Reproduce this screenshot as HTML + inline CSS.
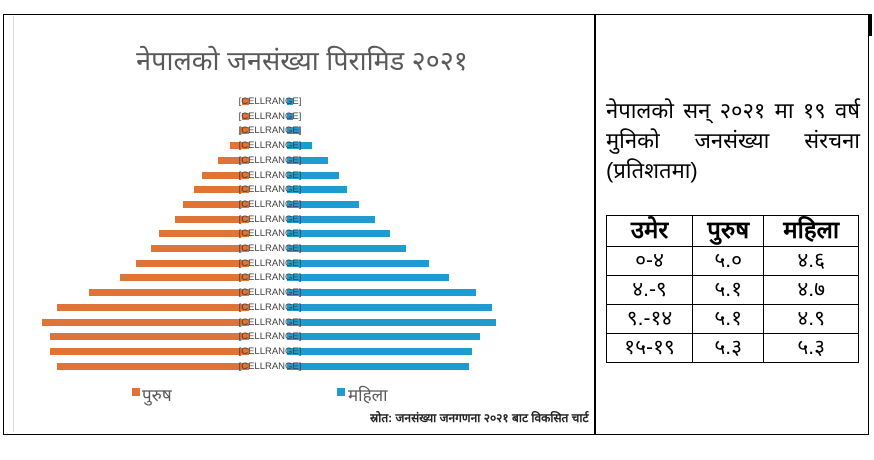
<!DOCTYPE html>
<html><head><meta charset="utf-8"><style>
body{margin:0;width:874px;height:460px;background:#fff;position:relative;overflow:hidden;font-family:"Liberation Sans","Noto Sans CJK SC",sans-serif}
.a{position:absolute}
.o{position:absolute;background:#e07336;height:7px}
.b{position:absolute;background:#1e9bd0;height:7px}
.l{position:absolute;left:235px;width:70px;font-size:9.5px;color:#404040;text-align:center;line-height:11px}
table{border-collapse:collapse;position:absolute;left:606px;top:215px;width:253px}
td{border:1.5px solid #000;text-align:center;font-size:21px;height:28px;padding:0;line-height:26px}
th{border:1.5px solid #000;font-size:24px;height:30px;padding:0;line-height:28px}
</style></head><body>
<div class="a" style="left:3px;top:14px;width:864px;height:419px;border:1.5px solid #000"></div>
<div class="a" style="left:594px;top:14px;width:1.5px;height:420px;background:#000"></div>
<div class="a" style="left:869px;top:14px;width:3px;height:22px;background:#000"></div>
<div class="a" style="left:13px;top:16px;width:1px;height:416px;background:#ddd"></div>
<div class="a" style="left:0;width:604px;top:41px;text-align:center;font-size:27px;color:#595959">नेपालको जनसंख्या पिरामिड २०२१</div>
<div id="bars"></div>
<div class="a" style="left:132px;top:388px;width:8px;height:8px;background:#e07336"></div>
<div class="a" style="left:142px;top:383px;font-size:17px;color:#595959">पुरुष</div>
<div class="a" style="left:337px;top:388px;width:8px;height:8px;background:#1e9bd0"></div>
<div class="a" style="left:348px;top:383px;font-size:17px;color:#595959">महिला</div>
<div class="a" style="left:370px;top:409px;width:224px;overflow:hidden;white-space:nowrap;font-size:12px;font-weight:bold;color:#222">स्रोत: जनसंख्या जनगणना २०२१ बाट विकसित चार्ट</div>
<div class="a" style="left:606px;top:96px;width:254px;font-size:22px;line-height:30px;text-align:justify;text-align-last:left;color:#000">नेपालको सन् २०२१ मा १९ वर्ष मुनिको &nbsp; जनसंख्या &nbsp; संरचना (प्रतिशतमा)</div>
<table>
<tr><th>उमेर</th><th>पुरुष</th><th>महिला</th></tr>
<tr><td>०-४</td><td>५.०</td><td>४.६</td></tr>
<tr><td>४.-९</td><td>५.१</td><td>४.७</td></tr>
<tr><td>९.-१४</td><td>५.१</td><td>४.९</td></tr>
<tr><td>१५-१९</td><td>५.३</td><td>५.३</td></tr>
</table>
<script>
var d=[[242,293],[242,293],[240,300],[230,312],[218,328],[202,339],[194,347],[183,359],[175,375],[159,390],[151,406],[136,429],[120,449],[89,476],[57,492],[42,496],[50,480],[50,472],[57,469]];
var h='';
d.forEach(function(r,i){var y=98+i*14.7;
h+='<div class="o" style="left:'+r[0]+'px;width:'+(249-r[0])+'px;top:'+y+'px"></div>';
h+='<div class="b" style="left:287px;width:'+(r[1]-287)+'px;top:'+y+'px"></div>';
h+='<div class="l" style="top:'+(y-2)+'px">[CELLRANGE]</div>';});
document.getElementById('bars').innerHTML=h;
</script>
</body></html>
